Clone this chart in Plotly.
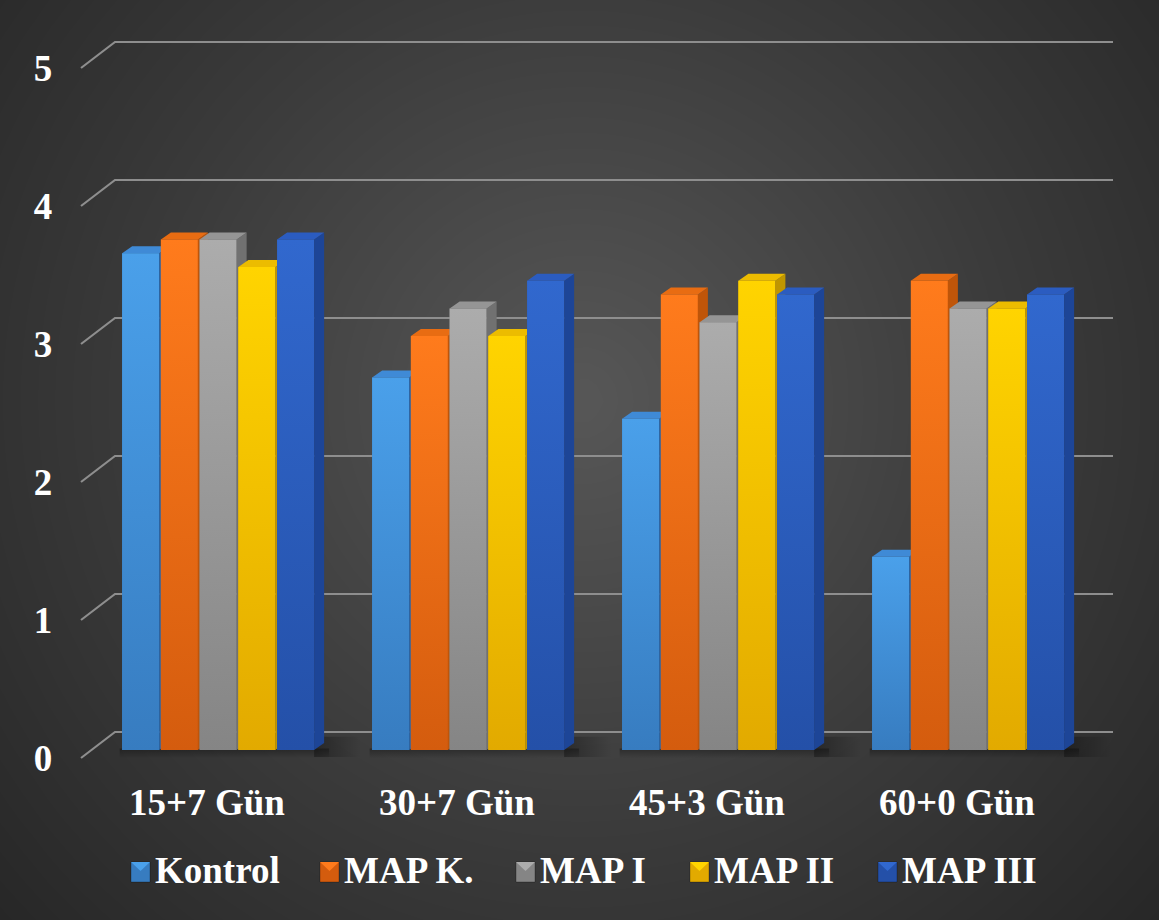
import numpy as np
import plotly.graph_objects as go

# ---------------------------------------------------------------- data
categories = ["15+7 Gün", "30+7 Gün", "45+3 Gün", "60+0 Gün"]
series_names = ["Kontrol", "MAP K.", "MAP I", "MAP II", "MAP III"]
kontrol = [3.6, 2.7, 2.4, 1.4]
map_k = [3.7, 3.0, 3.3, 3.4]
map_i = [3.7, 3.2, 3.1, 3.2]
map_ii = [3.5, 3.0, 3.4, 3.2]
map_iii = [3.7, 3.4, 3.3, 3.3]
y_ticks = [0, 1, 2, 3, 4, 5]

series_values = [kontrol, map_k, map_i, map_ii, map_iii]

# ---------------------------------------------------------------- styles
# (front top, front bottom, top face, side face)
palette = [
    ("#4aa0ea", "#377cc0", "#3f8ad6", "#2d67a8"),
    ("#ff7b1c", "#d45c0e", "#e86c12", "#bf5509"),
    ("#acacac", "#858585", "#959595", "#717171"),
    ("#ffd400", "#e2aa00", "#ecbc00", "#bf9600"),
    ("#3168ce", "#2450a8", "#2b5cc0", "#1d4597"),
]
FONT = "Liberation Serif, Times New Roman, serif"
TEXT_SIZE = 37
GRID_COLOR = "#8e8e8e"

# ---------------------------------------------------------------- geometry
W, H = 1159, 920
PX_GROUP = 250.0          # pixels between category centres
PX_UNIT = 138.0           # pixels per value unit
FIRST_GROUP_PX = 219.0
BASE_PX = 750.0

X_RANGE = [-FIRST_GROUP_PX / PX_GROUP, (W - FIRST_GROUP_PX) / PX_GROUP]
Y_RANGE = [-(H - BASE_PX) / PX_UNIT, BASE_PX / PX_UNIT]

SLOT = 38.75 / PX_GROUP
BAR_W = 37.0 / PX_GROUP
GROUP_W = SLOT * len(series_names)
DX = 10.0 / PX_GROUP       # receding depth of a bar, x
DY = 7.0 / PX_UNIT         # receding depth of a bar, y

WALL_BACK = 18.0 / PX_UNIT
WALL_FRONT = -8.0 / PX_UNIT
WALL_X_BACK = (115 - FIRST_GROUP_PX) / PX_GROUP
WALL_X_FRONT = (81 - FIRST_GROUP_PX) / PX_GROUP
WALL_X_RIGHT = (1113 - FIRST_GROUP_PX) / PX_GROUP

LABEL_SHIFT_X = 12.0 / PX_GROUP

fig = go.Figure()

# ---------------------------------------------------------------- backdrop
nx, ny = 70, 56
gx = np.linspace(0, 1, nx)
gy = np.linspace(0, 1, ny)
PX, PY = np.meshgrid(gx * W, (1 - gy) * H)
cx, cy = 580.0, 400.0
far = np.hypot(max(cx, W - cx), max(cy, H - cy))
shade = np.clip(np.hypot(PX - cx, PY - cy) / far, 0, 1)
fig.add_trace(go.Heatmap(
    x=gx, y=gy, z=shade, zmin=0, zmax=1, zsmooth="best",
    colorscale=[[0, "#575757"], [0.55, "#3b3b3b"], [1, "#272727"]],
    showscale=False, hoverinfo="skip", xaxis="x", yaxis="y"))

# ---------------------------------------------------------------- walls / grid
gxs, gys = [], []
for t in y_ticks:
    gxs += [WALL_X_FRONT, WALL_X_BACK, WALL_X_RIGHT, None]
    gys += [t + WALL_FRONT, t + WALL_BACK, t + WALL_BACK, None]
fig.add_trace(go.Scatter(x=gxs, y=gys, mode="lines",
                         line=dict(color=GRID_COLOR, width=2.2),
                         hoverinfo="skip", xaxis="x2", yaxis="y2"))

# soft floor shadows around each cluster
for gi in range(len(categories)):
    left = gi - GROUP_W / 2
    right = gi - GROUP_W / 2 + (len(series_names) - 1) * SLOT + BAR_W
    fig.add_trace(go.Scatter(
        x=[left - 0.01, right + DX + 0.02, right + DX + 0.02, left - 0.01, left - 0.01],
        y=[-0.06, -0.06, 0.01, 0.01, -0.06],
        fill="toself", mode="none",
        fillgradient=dict(type="vertical",
                          colorscale=[[0, "rgba(0,0,0,0)"], [1, "rgba(0,0,0,0.32)"]]),
        hoverinfo="skip", xaxis="x2", yaxis="y2"))
    fig.add_trace(go.Scatter(
        x=[right, right + 0.19, right + 0.19, right + DX, right],
        y=[-0.05, -0.05, DY + 0.045, DY + 0.045, 0.0],
        fill="toself", mode="none",
        fillgradient=dict(type="horizontal",
                          colorscale=[[0, "rgba(0,0,0,0.33)"], [1, "rgba(0,0,0,0)"]]),
        hoverinfo="skip", xaxis="x2", yaxis="y2"))

# ---------------------------------------------------------------- bars
for k, (name, vals) in enumerate(zip(series_names, series_values)):
    ftop, fbot, ctop, cside = palette[k]
    ax = f"x{k + 3}"
    ay = f"y{k + 3}"
    offset = -GROUP_W / 2 + k * SLOT
    xs = list(range(len(categories)))
    fig.add_trace(go.Bar(x=xs, y=vals, width=BAR_W, offset=offset, name=name,
                         marker=dict(color=fbot, line=dict(width=0)),
                         showlegend=False, xaxis=ax, yaxis=ay))
    tx, ty, sx, sy = [], [], [], []
    for gi, v in zip(xs, vals):
        xl = gi + offset
        xr = xl + BAR_W
        # front shading
        fig.add_trace(go.Scatter(
            x=[xl, xr, xr, xl, xl], y=[0, 0, v, v, 0],
            fill="toself", mode="none",
            fillgradient=dict(type="vertical", start=0, stop=v,
                              colorscale=[[0, fbot], [1, ftop]]),
            hoverinfo="skip", showlegend=False, xaxis=ax, yaxis=ay))
        tx += [xl, xr, xr + DX, xl + DX, xl, None]
        ty += [v, v, v + DY, v + DY, v, None]
        sx += [xr, xr, xr + DX, xr + DX, xr, None]
        sy += [0, v, v + DY, DY, 0, None]
    fig.add_trace(go.Scatter(x=sx, y=sy, fill="toself", mode="none",
                             fillcolor=cside, hoverinfo="skip",
                             showlegend=False, xaxis=ax, yaxis=ay))
    fig.add_trace(go.Scatter(x=tx, y=ty, fill="toself", mode="none",
                             fillcolor=ctop, hoverinfo="skip",
                             showlegend=False, xaxis=ax, yaxis=ay))

# carrier for the label axes
fig.add_trace(go.Scatter(x=[0], y=[0], mode="markers", marker=dict(opacity=0),
                         hoverinfo="skip", showlegend=False,
                         xaxis="x8", yaxis="y8"))

# ---------------------------------------------------------------- axes
hidden = dict(visible=False, fixedrange=True)
layout_axes = {
    "xaxis": dict(hidden, range=[0, 1], domain=[0, 1]),
    "yaxis": dict(hidden, range=[0, 1], domain=[0, 1]),
}
for i in range(2, 8):
    layout_axes[f"xaxis{i}"] = dict(hidden, range=X_RANGE, overlaying="x")
    layout_axes[f"yaxis{i}"] = dict(hidden, range=Y_RANGE, overlaying="y")

tick_font = dict(family=FONT, size=TEXT_SIZE, color="white", weight="bold")
layout_axes["xaxis8"] = dict(
    range=[X_RANGE[0] + LABEL_SHIFT_X, X_RANGE[1] + LABEL_SHIFT_X],
    overlaying="x", anchor="free", position=0.1555, side="bottom",
    tickmode="array", tickvals=list(range(len(categories))), ticktext=categories,
    showgrid=False, zeroline=False, showline=False, ticks="",
    tickfont=tick_font, fixedrange=True)
layout_axes["yaxis8"] = dict(
    range=[Y_RANGE[0] - WALL_FRONT, Y_RANGE[1] - WALL_FRONT],
    overlaying="y", anchor="free", position=0.045, side="left",
    tickmode="array", tickvals=y_ticks, ticktext=[str(t) for t in y_ticks],
    showgrid=False, zeroline=False, showline=False, ticks="",
    tickfont=tick_font, fixedrange=True)

# ---------------------------------------------------------------- legend
legend_left = [131, 320, 516, 690, 878]
SW_W, SW_H = 19, 20
LEG_Y = 872
TEXT_Y = 870
shapes, annotations = [], []
for k, name in enumerate(series_names):
    ftop, fbot, ctop, cside = palette[k]
    x0 = legend_left[k]
    shapes.append(dict(type="rect", xref="paper", yref="paper",
                       x0=x0 / W, x1=(x0 + SW_W) / W,
                       y0=1 - (LEG_Y + SW_H / 2) / H, y1=1 - (LEG_Y - SW_H / 2) / H,
                       fillcolor=fbot, line=dict(width=0.8, color="rgba(0,0,0,0.35)"),
                       layer="above"))
    shapes.append(dict(type="path", xref="paper", yref="paper",
                       path=(f"M {x0 / W},{1 - (LEG_Y - SW_H / 2) / H} "
                             f"L {(x0 + SW_W) / W},{1 - (LEG_Y - SW_H / 2) / H} "
                             f"L {(x0 + SW_W / 2) / W},{1 - (LEG_Y - 1) / H} Z"),
                       fillcolor=ftop, line=dict(width=0), layer="above"))
    annotations.append(dict(text=f"<b>{name}</b>", xref="paper", yref="paper",
                            x=(x0 + SW_W + 3) / W, y=1 - TEXT_Y / H,
                            xanchor="left", yanchor="middle", showarrow=False,
                            font=dict(family=FONT, size=TEXT_SIZE, color="white")))

fig.update_layout(
    width=W, height=H,
    margin=dict(l=0, r=0, t=0, b=0),
    paper_bgcolor="#303030", plot_bgcolor="rgba(0,0,0,0)",
    showlegend=False, hovermode=False,
    shapes=shapes, annotations=annotations,
    **layout_axes,
)

fig.write_html("out.html", config={"displayModeBar": False})
